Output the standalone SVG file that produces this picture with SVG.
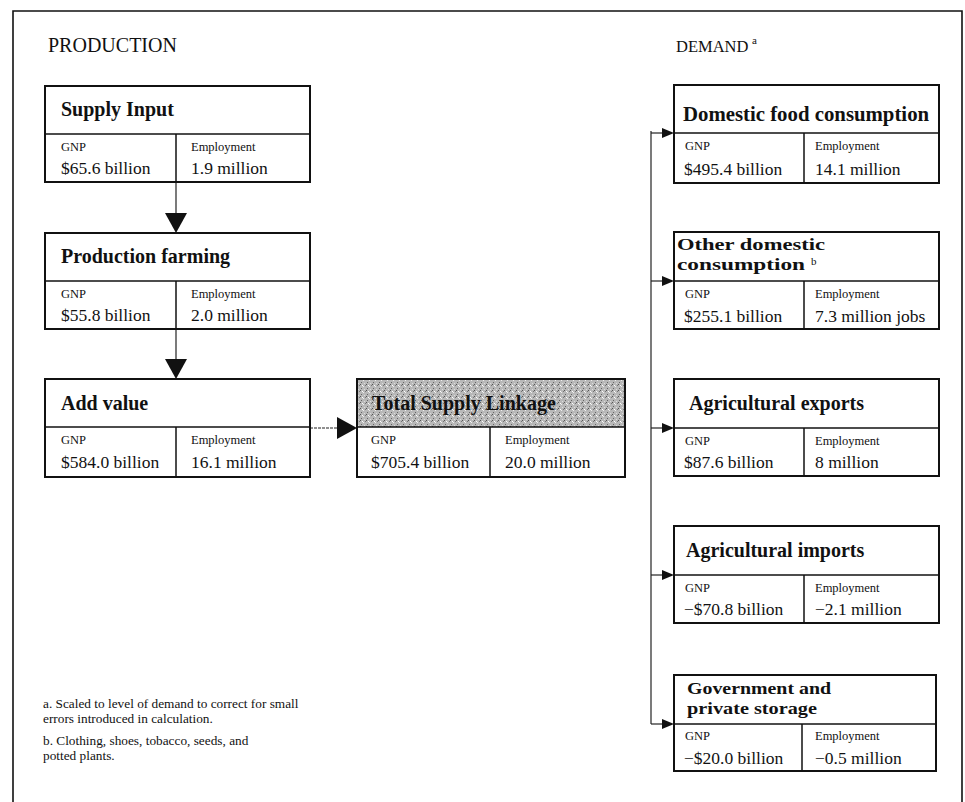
<svg xmlns="http://www.w3.org/2000/svg" width="965" height="802" viewBox="0 0 965 802">
<style>
  .frame{fill:none;stroke:#111;stroke-width:1.6}
  .box{fill:#fff;stroke:#111;stroke-width:2}
  .div{stroke:#111;stroke-width:1.5;fill:none}
  .conn{stroke:#222;stroke-width:1.2;fill:none}
  .head{font-family:"Liberation Serif","Times New Roman",serif;font-size:20px;fill:#111}
  .title{font-family:"Liberation Serif","Times New Roman",serif;font-size:20px;font-weight:bold;fill:#111}
  .title2{font-family:"Liberation Serif","Times New Roman",serif;font-size:17.5px;font-weight:bold;fill:#111}
  .lbl{font-family:"Liberation Serif","Times New Roman",serif;font-size:12.5px;fill:#111}
  .val{font-family:"Liberation Serif","Times New Roman",serif;font-size:17.5px;fill:#111}
  .sup{font-family:"Liberation Serif","Times New Roman",serif;font-size:11px;fill:#111}
  .note{font-family:"Liberation Serif","Times New Roman",serif;font-size:13.3px;fill:#111}
  .arrow{fill:#111}
</style>
<defs>
  <pattern id="grain" width="6" height="6" patternUnits="userSpaceOnUse">
    <rect width="6" height="6" fill="#b8b8b8"/>
    <rect x="0" y="0" width="1" height="1" fill="#555"/>
    <rect x="3" y="2" width="1" height="1" fill="#eee"/>
    <rect x="1" y="4" width="1" height="1" fill="#666"/>
    <rect x="4" y="5" width="1" height="1" fill="#ddd"/>
    <rect x="5" y="1" width="1" height="1" fill="#777"/>
    <rect x="2" y="1" width="1" height="1" fill="#fff"/>
  </pattern>
</defs>
<rect width="965" height="802" fill="#fff"/>

<!-- outer frame (open at bottom) -->
<path class="frame" d="M13,802 V11 H962 V802"/>

<text class="head" x="48" y="52">PRODUCTION</text>
<text class="head" x="676" y="52" style="font-size:16.5px">DEMAND</text>
<text class="sup" x="752" y="44">a</text>

<!-- connectors -->
<g id="connectors">
  <line class="conn" x1="176" y1="182" x2="176" y2="214"/>
  <polygon class="arrow" points="165,213 187,213 176,233"/>
  <line class="conn" x1="176" y1="329" x2="176" y2="360"/>
  <polygon class="arrow" points="165,359 187,359 176,379"/>
  <line class="conn" x1="310" y1="428" x2="339" y2="428" stroke-dasharray="3,1"/>
  <polygon class="arrow" points="337,417 337,439 357,428"/>
  <line class="conn" x1="651" y1="131" x2="651" y2="724"/>
  <line class="conn" x1="651" y1="133" x2="663" y2="133"/>
  <polygon class="arrow" points="662,128 662,138 674,133"/>
  <line class="conn" x1="651" y1="281" x2="663" y2="281"/>
  <polygon class="arrow" points="662,276 662,286 674,281"/>
  <line class="conn" x1="651" y1="428" x2="663" y2="428"/>
  <polygon class="arrow" points="662,423 662,433 674,428"/>
  <line class="conn" x1="651" y1="575" x2="663" y2="575"/>
  <polygon class="arrow" points="662,570 662,580 674,575"/>
  <line class="conn" x1="651" y1="724" x2="663" y2="724"/>
  <polygon class="arrow" points="662,719 662,729 674,724"/>
</g>

<!-- Production boxes -->
<g id="supply-input">
  <rect class="box" x="45" y="86" width="265" height="96"/>
  <line class="div" x1="45" y1="134" x2="310" y2="134"/>
  <line class="div" x1="176" y1="134" x2="176" y2="182"/>
  <text class="title" x="61" y="116">Supply Input</text>
  <text class="lbl" x="61" y="151">GNP</text>
  <text class="val" x="61" y="174">$65.6 billion</text>
  <text class="lbl" x="191" y="151">Employment</text>
  <text class="val" x="191" y="174">1.9 million</text>
</g>

<g id="production-farming">
  <rect class="box" x="45" y="233" width="265" height="96"/>
  <line class="div" x1="45" y1="281" x2="310" y2="281"/>
  <line class="div" x1="176" y1="281" x2="176" y2="329"/>
  <text class="title" x="61" y="263">Production farming</text>
  <text class="lbl" x="61" y="298">GNP</text>
  <text class="val" x="61" y="321">$55.8 billion</text>
  <text class="lbl" x="191" y="298">Employment</text>
  <text class="val" x="191" y="321">2.0 million</text>
</g>

<g id="add-value">
  <rect class="box" x="45" y="379" width="265" height="98"/>
  <line class="div" x1="45" y1="427" x2="310" y2="427"/>
  <line class="div" x1="176" y1="427" x2="176" y2="477"/>
  <text class="title" x="61" y="410">Add value</text>
  <text class="lbl" x="61" y="444">GNP</text>
  <text class="val" x="61" y="468">$584.0 billion</text>
  <text class="lbl" x="191" y="444">Employment</text>
  <text class="val" x="191" y="468">16.1 million</text>
</g>

<g id="total-supply-linkage">
  <rect class="box" x="357" y="379" width="268" height="98"/>
  <rect x="358" y="380" width="266" height="47" fill="url(#grain)"/>
  <line class="div" x1="357" y1="427" x2="625" y2="427"/>
  <line class="div" x1="490" y1="427" x2="490" y2="477"/>
  <text class="title" x="372" y="410">Total Supply Linkage</text>
  <text class="lbl" x="371" y="444">GNP</text>
  <text class="val" x="371" y="468">$705.4 billion</text>
  <text class="lbl" x="505" y="444">Employment</text>
  <text class="val" x="505" y="468">20.0 million</text>
</g>

<!-- Demand boxes -->
<g id="domestic-food">
  <rect class="box" x="674" y="85" width="265" height="98"/>
  <line class="div" x1="674" y1="133" x2="939" y2="133"/>
  <line class="div" x1="804" y1="133" x2="804" y2="183"/>
  <text class="title" x="683" y="121" style="font-size:20.8px">Domestic food consumption</text>
  <text class="lbl" x="685" y="150">GNP</text>
  <text class="val" x="684" y="175">$495.4 billion</text>
  <text class="lbl" x="815" y="150">Employment</text>
  <text class="val" x="815" y="175">14.1 million</text>
</g>

<g id="other-domestic">
  <rect class="box" x="674" y="232" width="265" height="97"/>
  <line class="div" x1="674" y1="281" x2="939" y2="281"/>
  <line class="div" x1="804" y1="281" x2="804" y2="329"/>
  <text class="title2" x="677" y="250" textLength="148" lengthAdjust="spacingAndGlyphs">Other domestic</text>
  <text class="title2" x="677" y="270" textLength="128" lengthAdjust="spacingAndGlyphs">consumption</text>
  <text class="sup" x="811" y="265">b</text>
  <text class="lbl" x="685" y="298">GNP</text>
  <text class="val" x="684" y="322">$255.1 billion</text>
  <text class="lbl" x="815" y="298">Employment</text>
  <text class="val" x="815" y="322">7.3 million jobs</text>
</g>

<g id="agricultural-exports">
  <rect class="box" x="674" y="379" width="265" height="97"/>
  <line class="div" x1="674" y1="428" x2="939" y2="428"/>
  <line class="div" x1="804" y1="428" x2="804" y2="476"/>
  <text class="title" x="689" y="410">Agricultural exports</text>
  <text class="lbl" x="685" y="445">GNP</text>
  <text class="val" x="684" y="468">$87.6 billion</text>
  <text class="lbl" x="815" y="445">Employment</text>
  <text class="val" x="815" y="468">8 million</text>
</g>

<g id="agricultural-imports">
  <rect class="box" x="674" y="526" width="265" height="97"/>
  <line class="div" x1="674" y1="575" x2="939" y2="575"/>
  <line class="div" x1="804" y1="575" x2="804" y2="623"/>
  <text class="title" x="686" y="557">Agricultural imports</text>
  <text class="lbl" x="685" y="592">GNP</text>
  <text class="val" x="684" y="615">−$70.8 billion</text>
  <text class="lbl" x="815" y="592">Employment</text>
  <text class="val" x="815" y="615">−2.1 million</text>
</g>

<g id="government-storage">
  <rect class="box" x="674" y="675" width="262" height="96"/>
  <line class="div" x1="674" y1="724" x2="936" y2="724"/>
  <line class="div" x1="802" y1="724" x2="802" y2="771"/>
  <text class="title2" x="687" y="694" textLength="144" lengthAdjust="spacingAndGlyphs">Government and</text>
  <text class="title2" x="687" y="714" textLength="130" lengthAdjust="spacingAndGlyphs">private storage</text>
  <text class="lbl" x="685" y="740">GNP</text>
  <text class="val" x="684" y="764">−$20.0 billion</text>
  <text class="lbl" x="815" y="740">Employment</text>
  <text class="val" x="815" y="764">−0.5 million</text>
</g>

<!-- footnotes -->
<g id="notes">
  <text class="note" x="43" y="708">a. Scaled to level of demand to correct for small</text>
  <text class="note" x="43" y="723">errors introduced in calculation.</text>
  <text class="note" x="43" y="745">b. Clothing, shoes, tobacco, seeds, and</text>
  <text class="note" x="43" y="760">potted plants.</text>
</g>
</svg>
